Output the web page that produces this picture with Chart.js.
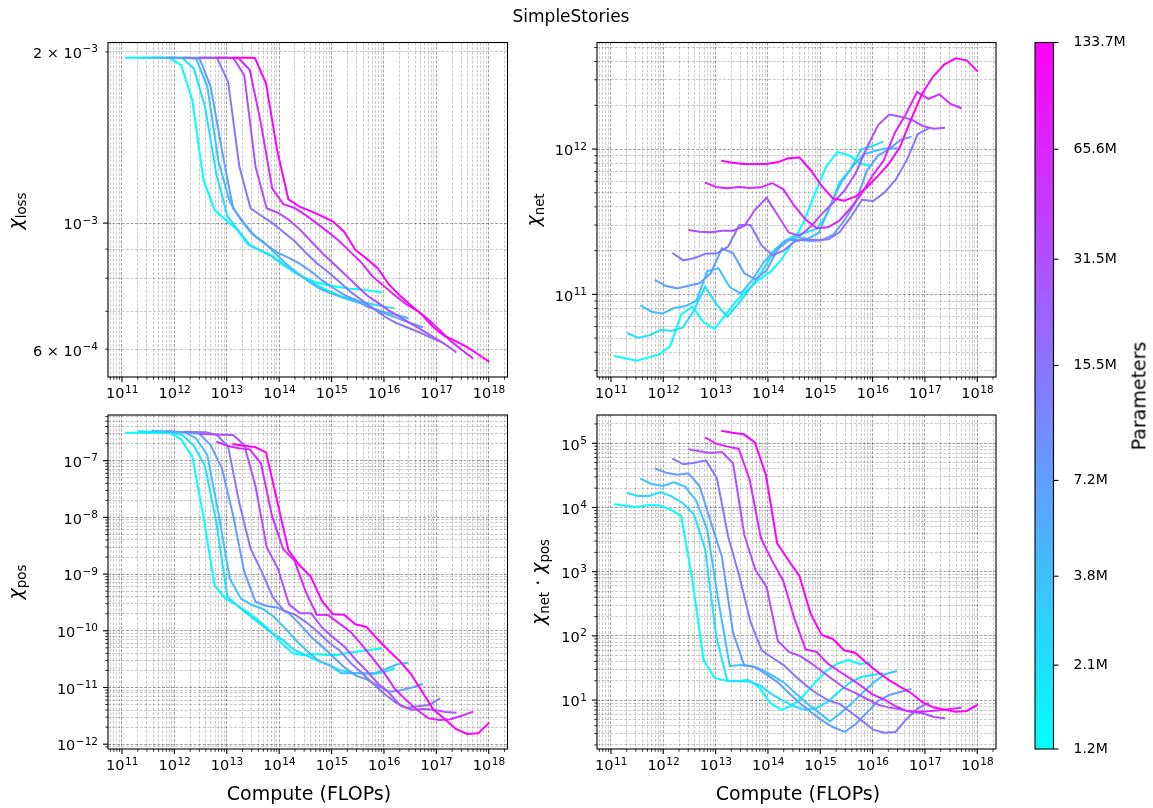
<!DOCTYPE html>
<html>
<head>
<meta charset="utf-8">
<script src="https://cdn.jsdelivr.net/npm/chart.js@4.4.1/dist/chart.umd.min.js"></script>
<style>
  body { margin: 0; background: #fff; width: 1153px; height: 808px; position: relative; overflow: hidden;
         font-family: "DejaVu Sans", sans-serif; color: #000; }
  .panel { position: absolute; }
  .txt { position: absolute; transform: translate(-50%, -50%); white-space: nowrap; font-size: 19px; line-height: 1; z-index: 2; }
  .title { font-size: 17px; }
  .rot { transform: translate(-50%, -50%) rotate(-90deg); }
  .chi { font-style: italic; }
  sub { font-size: 13.3px; vertical-align: -0.3em; }
</style>
</head>
<body>

<div class="panel" style="left:0;top:0"><canvas id="lossChart" width="530" height="405"></canvas></div>
<div class="panel" style="left:530px;top:0"><canvas id="netChart" width="490" height="405"></canvas></div>
<div class="panel" style="left:0;top:405px"><canvas id="posChart" width="530" height="403"></canvas></div>
<div class="panel" style="left:530px;top:405px"><canvas id="netPosChart" width="490" height="403"></canvas></div>
<div class="panel" style="left:1020px;top:0"><canvas id="cbarChart" width="133" height="808"></canvas></div>

<div class="txt title" style="left:571px;top:16px">SimpleStories</div>
<div class="txt" style="left:309px;top:793px">Compute (FLOPs)</div>
<div class="txt" style="left:798px;top:793px">Compute (FLOPs)</div>
<div class="txt rot" style="left:17px;top:211px"><span class="chi">χ</span><sub>loss</sub></div>
<div class="txt rot" style="left:535px;top:210px"><span class="chi">χ</span><sub>net</sub></div>
<div class="txt rot" style="left:17px;top:582px"><span class="chi">χ</span><sub>pos</sub></div>
<div class="txt rot" style="left:540px;top:582px"><span class="chi">χ</span><sub>net</sub> · <span class="chi">χ</span><sub>pos</sub></div>
<div class="txt rot" style="left:1139px;top:396px">Parameters</div>

<script>
// model sizes (colour scale)
const params = [1.2e6, 2.1e6, 3.8e6, 7.2e6, 15.5e6, 31.5e6, 65.6e6, 133.7e6];
const paramLabels = ['1.2M', '2.1M', '3.8M', '7.2M', '15.5M', '31.5M', '65.6M', '133.7M'];

// tokens seen at each checkpoint, compute = 6 * N * D
const tokens = [16000, 26000, 43000, 70000, 114000, 187000, 305000, 499000, 815000, 1.33e6, 2.17e6, 3.55e6,
  5.8e6, 9.47e6, 1.55e7, 2.53e7, 4.13e7, 6.74e7, 1.1e8, 1.8e8, 2.94e8, 4.8e8, 7.84e8, 1.28e9];

const chiLoss = [
  [1.954e-3, 1.954e-3, 1.954e-3, 1.954e-3, 1.951e-3, 1.897e-3, 1.646e-3, 1.191e-3, 1.054e-3, 1.013e-3, 9.75e-4, 9.16e-4, 8.97e-4, 8.79e-4, 8.48e-4, 8.24e-4, 8.03e-4, 7.87e-4, 7.79e-4, 7.73e-4, 7.67e-4, 7.64e-4, 7.60e-4, 7.56e-4],
  [1.954e-3, 1.954e-3, 1.954e-3, 1.954e-3, 1.949e-3, 1.871e-3, 1.602e-3, 1.223e-3, 1.029e-3, 9.70e-4, 9.16e-4, 8.94e-4, 8.74e-4, 8.48e-4, 8.19e-4, 7.99e-4, 7.78e-4, 7.61e-4, 7.46e-4, 7.35e-4, 7.27e-4, 7.20e-4, 7.13e-4, 7.08e-4],
  [1.954e-3, 1.954e-3, 1.954e-3, 1.954e-3, 1.946e-3, 1.738e-3, 1.282e-3, 1.091e-3, 1.013e-3, 9.57e-4, 9.28e-4, 8.88e-4, 8.50e-4, 8.19e-4, 7.91e-4, 7.68e-4, 7.53e-4, 7.41e-4, 7.30e-4, 7.20e-4, 7.06e-4, 6.96e-4, 6.89e-4, 6.80e-4],
  [1.954e-3, 1.954e-3, 1.954e-3, 1.946e-3, 1.738e-3, 1.345e-3, 1.062e-3, 9.99e-4, 9.47e-4, 9.15e-4, 8.87e-4, 8.69e-4, 8.48e-4, 8.22e-4, 7.92e-4, 7.68e-4, 7.47e-4, 7.33e-4, 7.13e-4, 7.01e-4, 6.89e-4, 6.77e-4, 6.66e-4, 6.56e-4],
  [1.954e-3, 1.954e-3, 1.954e-3, 1.951e-3, 1.773e-3, 1.257e-3, 1.062e-3, 1.029e-3, 9.99e-4, 9.63e-4, 9.28e-4, 8.85e-4, 8.48e-4, 8.19e-4, 7.87e-4, 7.56e-4, 7.31e-4, 7.08e-4, 6.85e-4, 6.68e-4, 6.56e-4, 6.44e-4, 6.31e-4, 6.19e-4],
  [1.954e-3, 1.954e-3, 1.954e-3, 1.954e-3, 1.821e-3, 1.257e-3, 1.062e-3, 1.043e-3, 1.013e-3, 9.73e-4, 9.28e-4, 8.85e-4, 8.48e-4, 8.13e-4, 7.78e-4, 7.46e-4, 7.23e-4, 7.01e-4, 6.83e-4, 6.64e-4, 6.47e-4, 6.29e-4, 6.12e-4, 5.92e-4],
  [1.954e-3, 1.954e-3, 1.949e-3, 1.859e-3, 1.498e-3, 1.151e-3, 1.080e-3, 1.063e-3, 1.033e-3, 9.99e-4, 9.65e-4, 9.30e-4, 8.90e-4, 8.52e-4, 8.05e-4, 7.75e-4, 7.46e-4, 7.20e-4, 7.01e-4, 6.77e-4, 6.49e-4, 6.20e-4, 5.98e-4, 5.78e-4],
  [1.954e-3, 1.954e-3, 1.951e-3, 1.761e-3, 1.344e-3, 1.101e-3, 1.069e-3, 1.050e-3, 1.029e-3, 1.006e-3, 9.66e-4, 8.97e-4, 8.66e-4, 8.33e-4, 7.80e-4, 7.45e-4, 7.16e-4, 6.89e-4, 6.56e-4, 6.33e-4, 6.20e-4, 6.05e-4, 5.88e-4, 5.70e-4]
];

const chiNet = [
  [3.77e10, 3.63e10, 3.50e10, 3.67e10, 3.85e10, 4.37e10, 7.29e10, 8.23e10, 6.45e10, 5.78e10, 7.29e10, 9.10e10, 1.083e11, 1.269e11, 1.425e11, 1.742e11, 2.281e11, 3.165e11, 4.96e11, 7.56e11, 9.54e11, 9.10e11, 8.02e11, 7.65e11],
  [5.42e10, 5.04e10, 5.22e10, 5.68e10, 5.62e10, 5.90e10, 7.72e10, 1.130e11, 8.58e10, 7.02e10, 8.63e10, 1.089e11, 1.395e11, 1.866e11, 2.293e11, 2.548e11, 2.658e11, 2.818e11, 3.61e11, 5.81e11, 7.18e11, 9.96e11, 1.050e12, 1.124e12],
  [8.40e10, 7.60e10, 7.40e10, 8.06e10, 8.27e10, 9.00e10, 1.448e11, 1.511e11, 1.124e11, 1.011e11, 1.249e11, 1.644e11, 2.020e11, 2.342e11, 2.469e11, 2.417e11, 2.658e11, 4.08e11, 5.87e11, 7.52e11, 9.20e11, 9.69e11, 1.012e12, 1.012e12],
  [1.256e11, 1.141e11, 1.100e11, 1.148e11, 1.191e11, 1.395e11, 2.074e11, 1.917e11, 1.395e11, 1.269e11, 1.456e11, 2.041e11, 2.367e11, 2.367e11, 2.330e11, 2.367e11, 2.575e11, 3.25e11, 4.30e11, 7.10e11, 9.01e11, 1.001e12, 1.154e12, 1.217e12],
  [1.927e11, 1.715e11, 1.780e11, 1.906e11, 1.917e11, 2.130e11, 3.00e11, 3.00e11, 2.163e11, 1.856e11, 2.009e11, 2.317e11, 2.391e11, 2.354e11, 2.391e11, 2.687e11, 3.41e11, 4.48e11, 4.39e11, 5.01e11, 6.13e11, 8.32e11, 1.270e12, 1.389e12],
  [2.773e11, 2.701e11, 2.672e11, 2.744e11, 2.744e11, 2.954e11, 3.85e11, 4.61e11, 3.50e11, 2.658e11, 2.535e11, 2.954e11, 3.61e11, 4.30e11, 5.20e11, 6.84e11, 1.028e12, 1.464e12, 1.725e12, 1.671e12, 1.594e12, 1.441e12, 1.382e12, 1.404e12],
  [5.87e11, 5.48e11, 5.37e11, 5.48e11, 5.40e11, 5.45e11, 5.84e11, 5.28e11, 4.06e11, 3.27e11, 2.847e11, 2.893e11, 3.20e11, 3.89e11, 4.91e11, 6.56e11, 8.32e11, 1.290e12, 1.743e12, 2.470e12, 2.211e12, 2.381e12, 2.042e12, 1.907e12],
  [8.32e11, 8.06e11, 7.89e11, 7.89e11, 7.89e11, 8.10e11, 8.64e11, 8.73e11, 7.18e11, 5.57e11, 4.58e11, 4.41e11, 4.70e11, 5.42e11, 6.49e11, 7.89e11, 1.028e12, 1.594e12, 2.406e12, 3.167e12, 3.83e12, 4.21e12, 4.08e12, 3.41e12]
];

const chiPos = [
  [3.123e-7, 3.123e-7, 3.123e-7, 3.081e-7, 3.081e-7, 2.380e-7, 1.178e-7, 1.030e-8, 6.25e-10, 3.64e-10, 2.851e-10, 2.117e-10, 1.489e-10, 9.92e-11, 6.01e-11, 4.005e-11, 3.69e-11, 3.95e-11, 3.74e-11, 3.74e-11, 4.11e-11, 4.34e-11, 4.65e-11, 4.91e-11],
  [3.296e-7, 3.252e-7, 3.208e-7, 3.165e-7, 2.802e-7, 1.841e-7, 8.06e-8, 8.41e-9, 4.00e-10, 2.665e-10, 1.848e-10, 1.300e-10, 9.02e-11, 6.79e-11, 4.58e-11, 3.74e-11, 3.013e-11, 2.563e-11, 2.063e-11, 1.827e-11, 1.778e-11, 1.707e-11, 1.851e-11, 2.178e-11],
  [3.386e-7, 3.296e-7, 3.208e-7, 3.123e-7, 2.480e-7, 1.260e-7, 1.179e-8, 8.42e-10, 3.69e-10, 2.851e-10, 2.424e-10, 1.728e-10, 1.090e-10, 6.61e-11, 4.28e-11, 2.933e-11, 2.427e-11, 1.778e-11, 1.778e-11, 1.778e-11, 1.778e-11, 2.120e-11, 2.563e-11, 2.742e-11],
  [3.341e-7, 3.252e-7, 3.123e-7, 2.958e-7, 1.891e-7, 7.34e-8, 1.102e-8, 1.104e-9, 3.265e-10, 2.737e-10, 2.558e-10, 2.032e-10, 1.300e-10, 7.78e-11, 5.25e-11, 3.404e-11, 2.237e-11, 1.616e-11, 1.374e-11, 1.063e-11, 8.44e-12, 8.91e-12, 9.93e-12, 1.152e-11],
  [3.252e-7, 3.208e-7, 3.165e-7, 2.839e-7, 1.768e-7, 1.770e-8, 2.848e-9, 1.104e-9, 3.89e-10, 2.265e-10, 1.925e-10, 1.410e-10, 9.65e-11, 6.26e-11, 4.46e-11, 2.669e-11, 1.778e-11, 1.152e-11, 7.68e-12, 5.40e-12, 4.41e-12, 4.65e-12, 4.91e-12, 6.44e-12],
  [2.958e-7, 2.917e-7, 2.878e-7, 2.839e-7, 1.891e-7, 3.58e-8, 3.005e-9, 1.264e-9, 2.929e-10, 2.032e-10, 2.032e-10, 1.120e-10, 7.57e-11, 5.18e-11, 3.054e-11, 1.927e-11, 1.152e-11, 7.89e-12, 4.72e-12, 4.06e-12, 4.17e-12, 4.06e-12, 3.70e-12, 3.60e-12],
  [2.167e-7, 1.841e-7, 1.652e-7, 1.587e-7, 8.99e-8, 1.030e-8, 2.734e-9, 1.725e-9, 4.90e-10, 1.925e-10, 1.899e-10, 1.354e-10, 9.65e-11, 5.77e-11, 3.268e-11, 1.851e-11, 9.40e-12, 6.02e-12, 4.01e-12, 2.858e-12, 2.671e-12, 2.744e-12, 3.185e-12, 3.748e-12],
  [1.970e-7, 1.841e-7, 1.744e-7, 1.405e-7, 1.973e-8, 2.661e-9, 1.428e-9, 9.01e-10, 3.353e-10, 1.952e-10, 1.925e-10, 1.300e-10, 1.166e-10, 7.07e-11, 4.46e-11, 2.893e-11, 1.707e-11, 8.33e-12, 4.06e-12, 2.782e-12, 1.853e-12, 1.513e-12, 1.554e-12, 2.397e-12]
];

const chiNetPos = [
  [1.121e4, 1.069e4, 1.019e4, 1.081e4, 1.081e4, 9370, 7375, 743, 42.2, 22.1, 20.1, 19.85, 20.6, 15.8, 8.91, 7.01, 8.29, 11.9, 18.7, 28.4, 37.0, 42.2, 36.5, 38.3],
  [1.684e4, 1.511e4, 1.511e4, 1.744e4, 1.494e4, 1.176e4, 7831, 2258, 97.3, 19.85, 19.6, 19.4, 16.6, 12.3, 9.69, 8.00, 7.01, 7.54, 9.46, 13.5, 18.7, 22.9, 24.6, 26.1],
  [2.813e4, 2.324e4, 2.163e4, 2.467e4, 2.112e4, 1.279e4, 4463, 341.6, 34.0, 35.2, 34.0, 29.1, 23.2, 18.0, 12.3, 8.70, 6.38, 4.67, 6.38, 9.13, 13.4, 19.4, 25.5, 28.4],
  [4.076e4, 3.489e4, 3.249e4, 3.408e4, 2.163e4, 6021, 1716, 112.3, 34.8, 32.4, 25.2, 18.9, 12.9, 8.91, 6.45, 4.79, 3.77, 3.19, 4.20, 6.38, 9.69, 12.0, 13.4, 14.9],
  [5.768e4, 4.706e4, 4.995e4, 5.430e4, 2.848e4, 3514, 857.6, 164.7, 59.6, 45.3, 34.8, 23.7, 16.8, 12.45, 9.80, 8.70, 6.45, 4.79, 3.46, 3.11, 3.19, 5.08, 7.45, 9.13],
  [8.058e4, 7.504e4, 7.067e4, 7.325e4, 4.878e4, 3731, 1063, 578, 84.3, 56.2, 48.7, 37.4, 27.7, 20.6, 15.3, 12.8, 10.4, 8.50, 7.63, 7.18, 6.53, 6.22, 5.46, 5.20],
  [1.239e5, 9.87e4, 8.87e4, 8.25e4, 2.683e4, 3311, 1486, 716.9, 185.6, 61.8, 56.2, 37.0, 28.1, 21.8, 16.6, 12.3, 10.3, 8.10, 6.85, 6.61, 6.69, 6.93, 7.27, 7.63],
  [1.574e5, 1.465e5, 1.380e5, 1.036e5, 3.210e4, 2768, 1522, 847.6, 222.1, 103.3, 89.5, 59.6, 54.8, 38.3, 27.7, 20.6, 16.2, 12.9, 9.35, 7.72, 7.10, 6.61, 6.77, 8.50]
];

// axis ranges
const xRange = [5.41e10, 2.28e18];
const lossRange = [5.362e-4, 2.078e-3];
const netRange = [2.70e10, 5.41e12];
const posRange = [8.22e-13, 6.40e-7];
const netPosRange = [1.73, 2.76e5];

Chart.defaults.font.family = "'DejaVu Sans', sans-serif";
Chart.defaults.color = '#000';
const FONT = "'DejaVu Sans', sans-serif";

// matplotlib "cool" colormap on a log norm of the parameter count
function coolColor(p) {
  const t = Math.log(p / params[0]) / Math.log(params[params.length - 1] / params[0]);
  return 'rgb(' + Math.round(255 * t) + ',' + Math.round(255 * (1 - t)) + ',255)';
}

// every 1..9 x 10^k inside the range, like matplotlib's LogLocator
function logTicks(min, max) {
  const out = [];
  for (let e = Math.floor(Math.log10(min)); e <= Math.ceil(Math.log10(max)); e++) {
    for (let m = 1; m < 10; m++) {
      const v = m * Math.pow(10, e);
      if (v >= min && v <= max) out.push({ value: v, mant: m, exp: e });
    }
  }
  return out;
}

// label text for a tick: base part and exponent, or null for an unlabelled minor tick
function sciParts(t, minorLabelled) {
  const exp = String(t.exp).replace('-', '\u2212');
  if (t.mant === 1) return { base: '10', exp: exp };
  if (minorLabelled.includes(t.mant)) return { base: t.mant + ' \u00d7 10', exp: exp };
  return null;
}

function sciText(scale, minorLabelled) {
  return scale.ticks.map(t => {
    const p = sciParts(t, minorLabelled);
    return p ? '10^' + p.exp : '';
  });
}

// full box, outward tick marks and mathtext-like tick labels
const frame = {
  id: 'frame',
  afterDraw(chart) {
    const ctx = chart.ctx;
    const a = chart.chartArea;
    const minorLabelled = chart.options.minorLabelled || [];
    ctx.save();
    ctx.strokeStyle = '#000';
    ctx.fillStyle = '#000';
    Object.values(chart.scales).forEach(scale => {
      if (!scale.options.display) return;
      const sci = scale.type === 'logarithmic' && chart.config.type === 'scatter';
      scale.ticks.forEach(t => {
        const major = t.mant === undefined || t.mant === 1;
        const len = major ? 5 : 2.8;
        ctx.lineWidth = major ? 1.1 : 0.8;
        const p = scale.getPixelForValue(t.value);
        ctx.beginPath();
        if (scale.isHorizontal()) {
          ctx.moveTo(p, a.bottom);
          ctx.lineTo(p, a.bottom + len);
        } else if (scale.position === 'left') {
          ctx.moveTo(a.left - len, p);
          ctx.lineTo(a.left, p);
        } else {
          ctx.moveTo(a.right, p);
          ctx.lineTo(a.right + len, p);
        }
        ctx.stroke();

        if (!sci) return;
        const parts = sciParts(t, scale.isHorizontal() ? [] : minorLabelled);
        if (!parts) return;
        ctx.font = '14.5px ' + FONT;
        const wb = ctx.measureText(parts.base).width;
        ctx.font = '10.5px ' + FONT;
        const we = ctx.measureText(parts.exp).width;
        let x0, yb;
        if (scale.isHorizontal()) {
          x0 = p - (wb + we) / 2;
          yb = a.bottom + 21.3;
        } else {
          x0 = a.left - 10.5 - wb - we;
          yb = p + 6.3;
        }
        ctx.textAlign = 'left';
        ctx.textBaseline = 'alphabetic';
        ctx.font = '14.5px ' + FONT;
        ctx.fillText(parts.base, x0, yb);
        ctx.font = '10.5px ' + FONT;
        ctx.fillText(parts.exp, x0 + wb + 0.5, yb - 5.8);
      });
    });
    ctx.lineWidth = 1.1;
    ctx.strokeRect(a.left, a.top, a.right - a.left, a.bottom - a.top);
    ctx.restore();
  }
};

function lineSets(values) {
  return params.map((p, i) => ({
    data: values[i].map((v, k) => ({ x: 6 * p * tokens[k], y: v })),
    borderColor: coolColor(p),
    backgroundColor: coolColor(p),
    borderWidth: 2,
    showLine: true,
    pointRadius: 0,
    order: params.length - i
  }));
}

const gridColor = ctx => (ctx.tick && ctx.tick.mant === 1) ? 'rgba(0,0,0,0.36)' : 'rgba(0,0,0,0.26)';
const gridWidth = ctx => (ctx.tick && ctx.tick.mant === 1) ? 1 : 0.8;

function makePanel(id, values, yRange, yLabelled, yWidth, xHeight, pad) {
  return new Chart(document.getElementById(id), {
    type: 'scatter',
    data: { datasets: lineSets(values) },
    options: {
      responsive: false,
      animation: false,
      minorLabelled: yLabelled,
      layout: { padding: pad },
      plugins: { legend: { display: false }, tooltip: { enabled: false } },
      scales: {
        x: {
          type: 'logarithmic',
          min: xRange[0],
          max: xRange[1],
          bounds: 'data',
          afterBuildTicks: s => { s.ticks = logTicks(xRange[0], xRange[1]); },
          afterFit: s => { s.height = xHeight; },
          ticks: { autoSkip: false, display: false, callback: (v, i, ticks) => sciText({ ticks }, [])[i] },
          grid: { color: gridColor, lineWidth: gridWidth, drawTicks: false },
          border: { display: false, dash: [3, 1.5] }
        },
        y: {
          type: 'logarithmic',
          position: 'left',
          min: yRange[0],
          max: yRange[1],
          bounds: 'data',
          afterBuildTicks: s => { s.ticks = logTicks(yRange[0], yRange[1]); },
          afterFit: s => { s.width = yWidth; },
          ticks: { autoSkip: false, display: false, callback: (v, i, ticks) => sciText({ ticks }, yLabelled)[i] },
          grid: { color: gridColor, lineWidth: gridWidth, drawTicks: false },
          border: { display: false, dash: [3, 1.5] }
        }
      }
    },
    plugins: [frame]
  });
}

makePanel('lossChart', chiLoss, lossRange, [2, 6], 108, 28, { top: 42.5, right: 22.5, left: 0, bottom: 0 });
makePanel('netChart', chiNet, netRange, [], 67, 28, { top: 42.5, right: 24, left: 0, bottom: 0 });
makePanel('posChart', chiPos, posRange, [], 108, 59, { top: 10, right: 22.5, left: 0, bottom: 0 });
makePanel('netPosChart', chiNetPos, netPosRange, [], 67, 59, { top: 10, right: 24, left: 0, bottom: 0 });

// colour bar
new Chart(document.getElementById('cbarChart'), {
  type: 'bar',
  data: {
    labels: ['Parameters'],
    datasets: [{
      data: [[params[0], params[params.length - 1]]],
      backgroundColor: ctx => {
        const a = ctx.chart.chartArea;
        if (!a) return coolColor(params[0]);
        const g = ctx.chart.ctx.createLinearGradient(0, a.bottom, 0, a.top);
        g.addColorStop(0, coolColor(params[0]));
        g.addColorStop(1, coolColor(params[params.length - 1]));
        return g;
      },
      borderWidth: 0,
      barPercentage: 1,
      categoryPercentage: 1
    }]
  },
  options: {
    responsive: false,
    animation: false,
    layout: { padding: { left: 15, top: 42.5, bottom: 59, right: 0 } },
    plugins: { legend: { display: false }, tooltip: { enabled: false } },
    scales: {
      x: { display: false },
      y: {
        type: 'logarithmic',
        position: 'right',
        min: params[0],
        max: params[params.length - 1],
        bounds: 'data',
        afterBuildTicks: s => { s.ticks = params.map(p => ({ value: p })); },
        afterFit: s => { s.width = 99.5; },
        ticks: { autoSkip: false, padding: 12, font: { size: 14 }, callback: (v, i) => paramLabels[i] },
        grid: { display: false },
        border: { display: false }
      }
    }
  },
  plugins: [frame]
});
</script>
</body>
</html>
